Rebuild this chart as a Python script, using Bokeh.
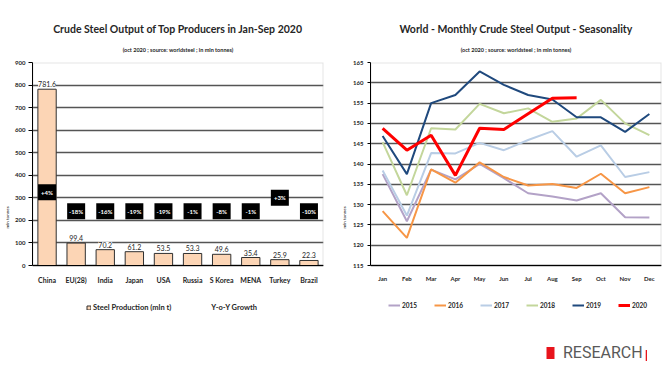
from bokeh.plotting import figure
from bokeh.models import (ColumnDataSource, Range1d, FactorRange, LabelSet, Title,
                          Legend, LegendItem, BoxAnnotation)
from bokeh.layouts import row
from bokeh.embed import file_html
from bokeh.resources import INLINE
from bokeh.core.properties import value

# ---------------- data ----------------
countries = ["China", "EU(28)", "India", "Japan", "USA", "Russia", "S Korea", "MENA", "Turkey", "Brazil"]
production = [781.6, 99.4, 70.2, 61.2, 53.5, 53.3, 49.6, 35.4, 25.9, 22.3]
growth = ["+4%", "-18%", "-16%", "-19%", "-19%", "-1%", "-8%", "-1%", "+3%", "-10%"]
prod_ticks = [0, 100, 200, 300, 400, 500, 600, 700, 800, 900]

months = ["Jan", "Feb", "Mar", "Apr", "May", "Jun", "Jul", "Aug", "Sep", "Oct", "Nov", "Dec"]
s2015 = [137.5, 125.9, 138.6, 136.2, 140.0, 136.5, 132.8, 132.0, 131.0, 132.8, 126.9, 126.8]
s2016 = [128.4, 121.8, 138.7, 135.4, 140.4, 136.8, 134.7, 135.1, 134.1, 137.6, 132.8, 134.3]
s2017 = [138.4, 127.3, 142.7, 142.6, 145.2, 143.4, 145.9, 148.1, 141.8, 144.6, 136.8, 138.0]
s2018 = [145.4, 132.3, 148.8, 148.5, 154.8, 152.5, 153.7, 150.4, 151.2, 155.8, 150.0, 147.1]
s2019 = [146.9, 137.5, 155.0, 157.0, 162.8, 159.5, 157.0, 155.9, 151.5, 151.5, 147.9, 152.3]
s2020 = [148.8, 143.4, 147.1, 137.2, 148.8, 148.5, 152.4, 156.2, 156.3]
month_ticks = [115, 120, 125, 130, 135, 140, 145, 150, 155, 160, 165]

# ---------------- style / layout ----------------
FONT = "Lato"
TEXT_COL = "#262626"
# level (chart units) at which the black growth boxes sit
growth_box_level = [325, 240, 240, 240, 240, 240, 240, 240, 300, 240]

FRAME_W = 291
PLOT_H = 203          # height of the gridded plot area
EXTRA_BELOW = 107     # room kept inside the frame, under the plot area, for axis labels & legends
FRAME_H = PLOT_H + EXTRA_BELOW


def lowered_range(lo, hi):
    """Range whose [lo, hi] part fills the plot area, leaving EXTRA_BELOW px underneath."""
    return Range1d(lo - EXTRA_BELOW * (hi - lo) / PLOT_H, hi)


def style_axes(p, lo, hi, tick_font, x_font, tick_out, y_standoff, x_standoff):
    p.background_fill_color = "white"
    p.border_fill_color = "white"
    p.outline_line_color = None
    p.add_layout(BoxAnnotation(bottom=lo, top=hi, fill_alpha=0, line_color="#a6a6a6",
                               line_width=2, level="underlay"))
    p.ygrid.grid_line_color = "#555555"
    p.ygrid.grid_line_width = 1.5
    p.xgrid.visible = False
    p.yaxis.bounds = (lo, hi)
    p.yaxis.axis_label = "mln tonnes"
    p.yaxis.axis_label_text_font_size = "4.5px"
    p.yaxis.axis_label_text_font_style = "bold"
    p.yaxis.axis_label_text_font = FONT
    p.yaxis.axis_label_standoff = 2
    p.yaxis.major_label_text_font_size = tick_font
    p.yaxis.major_label_text_font_style = "bold"
    p.yaxis.major_label_text_font = FONT
    p.yaxis.major_label_text_color = TEXT_COL
    p.yaxis.major_label_standoff = y_standoff
    p.yaxis.major_tick_out = tick_out
    p.yaxis.major_tick_in = 0
    p.yaxis.minor_tick_line_color = None
    p.yaxis.axis_line_color = "black"
    p.xaxis.fixed_location = lo
    p.xaxis.major_label_text_font_size = x_font
    p.xaxis.major_label_text_font_style = "bold"
    p.xaxis.major_label_text_font = FONT
    p.xaxis.major_label_text_color = TEXT_COL
    p.xaxis.major_tick_line_color = None
    p.xaxis.major_tick_out = 0
    p.xaxis.major_tick_in = 0
    p.xaxis.major_label_standoff = x_standoff
    p.xaxis.axis_line_color = "black"


def set_titles(p, main, sub):
    p.title.text = main
    p.title.align = "center"
    p.title.vertical_align = "top"
    p.title.standoff = 6
    p.title.text_font = FONT
    p.title.text_font_style = "bold"
    p.title.text_font_size = "10.5px"
    p.title.text_color = TEXT_COL
    p.add_layout(Title(text=sub, align="center", vertical_align="top", standoff=15,
                       text_font=FONT, text_font_style="bold", text_font_size="5.5px",
                       text_color=TEXT_COL), "above")


# ================= left chart =================
p1 = figure(x_range=FactorRange(*countries), y_range=lowered_range(0, 900),
            frame_width=FRAME_W, frame_height=FRAME_H,
            min_border_left=32, min_border_right=15, min_border_top=62, min_border_bottom=0,
            output_backend="svg", toolbar_location=None)

src = ColumnDataSource(dict(
    country=countries, production=production,
    prod_label=[f"{v:.1f}" for v in production],
    growth=growth, level=growth_box_level))

bars = p1.vbar(x="country", top="production", width=0.63, source=src,
               fill_color="#FCD5B5", line_color="#303030", line_width=1)

p1.add_layout(LabelSet(x="country", y="production", text="prod_label", source=src,
                       y_offset=2, text_align="center", text_baseline="bottom",
                       text_font=value(FONT), text_font_size="7px", text_color=TEXT_COL,
                       background_fill_color="white"))

p1.rect(x="country", y="level", width=18, height=16, width_units="screen", height_units="screen",
        source=src, fill_color="black", line_color=None)
p1.text(x="country", y="level", text="growth", source=src, text_color="white",
        text_font=value(FONT), text_font_style="bold", text_font_size="6px",
        text_align="center", text_baseline="middle")

growth_dummy = p1.line(x=[], y=[], line_alpha=0)

style_axes(p1, 0, 900, "6px", "7px", 4, 3, 10)
p1.yaxis.ticker = prod_ticks

leg1 = Legend(items=[LegendItem(label="Steel Production (mln t)", renderers=[bars]),
                     LegendItem(label="Y-o-Y Growth", renderers=[growth_dummy])],
              orientation="horizontal", location=(54, 60),
              label_text_font=FONT, label_text_font_size="7.5px", label_text_font_style="bold",
              label_text_color=TEXT_COL, glyph_width=5, glyph_height=5, label_height=9,
              label_standoff=2, spacing=33, padding=2, margin=0,
              border_line_color=None, background_fill_alpha=0)
p1.add_layout(leg1)
set_titles(p1, "Crude Steel Output of Top Producers in Jan-Sep 2020",
           "(oct 2020 ; source: worldsteel ; in mln tonnes)")

# ================= right chart =================
R_LO, R_HI = 115, 165
p2 = figure(x_range=FactorRange(*months), y_range=lowered_range(R_LO, R_HI),
            frame_width=FRAME_W, frame_height=FRAME_H,
            min_border_left=32, min_border_right=9, min_border_top=62, min_border_bottom=0,
            output_backend="svg", toolbar_location=None)

series = [("2015", s2015, "#B3A2C7", 2), ("2016", s2016, "#F79646", 2),
          ("2017", s2017, "#B9CDE5", 2), ("2018", s2018, "#C3D69B", 2),
          ("2019", s2019, "#1F497D", 2), ("2020", s2020, "#FF0000", 3)]
items = []
for name, vals, col, lw in series:
    r = p2.line(x=months[:len(vals)], y=vals, line_color=col, line_width=lw)
    items.append(LegendItem(label=name, renderers=[r]))

style_axes(p2, R_LO, R_HI, "6px", "6px", 3, 4, 9)
p2.yaxis.ticker = month_ticks
p2.yaxis.axis_label_standoff = 3

leg2 = Legend(items=items, orientation="horizontal", location=(18, 63),
              label_text_font=FONT, label_text_font_size="6.5px", label_text_font_style="bold",
              label_text_color=TEXT_COL, glyph_width=12, glyph_height=6, label_height=8,
              label_standoff=2, spacing=12, padding=2, margin=0,
              border_line_color=None, background_fill_alpha=0)
p2.add_layout(leg2)

# company mark below the right chart: swatch renderers sit far outside the visible range,
# only their legend glyphs are shown
off_range_y = [R_LO - 1000]
mark = p2.rect(x=["Jan"], y=off_range_y, width=0.1, height=0.1,
               fill_color="#E8141C", line_color=None)
bar_mark = p2.rect(x=["Jan"], y=off_range_y, width=0.1, height=0.1,
                   fill_color="#E8141C", line_color=None)
leg3 = Legend(items=[LegendItem(label="RESEARCH", renderers=[mark])],
              orientation="horizontal", location=(175, 10),
              label_text_font="Roboto", label_text_font_size="16px",
              label_text_color="#595959", glyph_width=10, glyph_height=15, label_height=15,
              label_standoff=8, padding=0, margin=0,
              border_line_color=None, background_fill_alpha=0)
p2.add_layout(leg3)
leg4 = Legend(items=[LegendItem(label=" ", renderers=[bar_mark])],
              orientation="horizontal", location=(275, 10),
              label_text_font="Roboto", label_text_font_size="2px",
              glyph_width=2, glyph_height=14, label_height=14, label_width=0,
              label_standoff=0, padding=0, margin=0,
              border_line_color=None, background_fill_alpha=0)
p2.add_layout(leg4)

set_titles(p2, "World - Monthly Crude Steel Output - Seasonality",
           "(oct 2020 ; source: worldsteel ; in mln tonnes)")

layout = row(p1, p2)
open("out.html", "w").write(file_html(layout, INLINE))
